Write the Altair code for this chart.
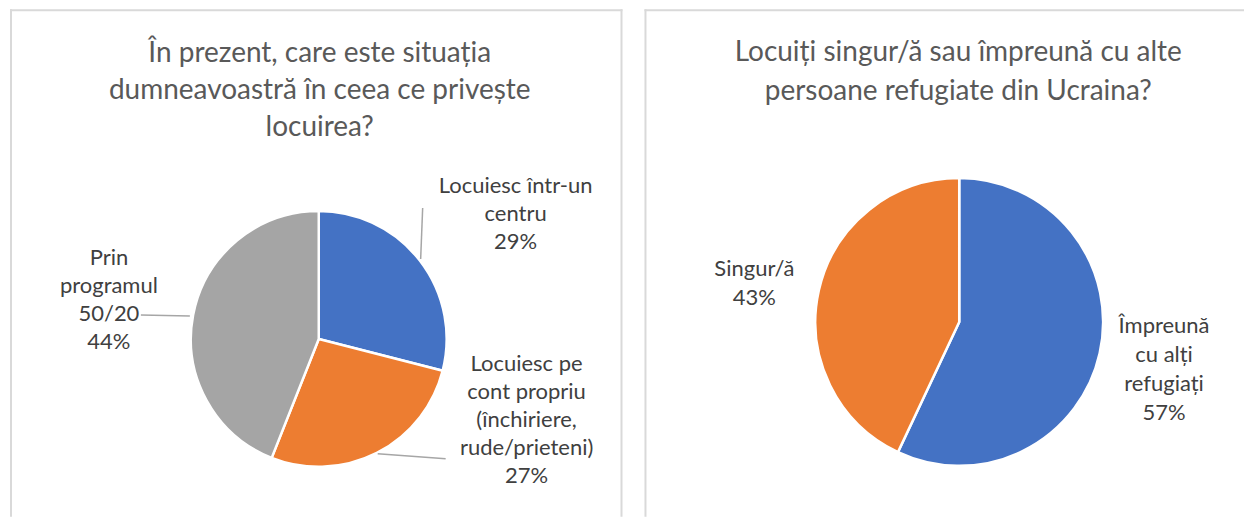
import altair as alt
import pandas as pd

# ---------------- data ----------------
left_title = ["În prezent, care este situația", "dumneavoastră în ceea ce privește", "locuirea?"]
left_categories = ["Locuiesc într-un centru",
                   "Locuiesc pe cont propriu (închiriere, rude/prieteni)",
                   "Prin programul 50/20"]
left_values = [29, 27, 44]
left_label_lines = [["Locuiesc într-un", "centru"],
                    ["Locuiesc pe", "cont propriu", "(închiriere,", "rude/prieteni)"],
                    ["Prin", "programul", "50/20"]]

right_title = ["Locuiți singur/ă sau împreună cu alte", "persoane refugiate din Ucraina?"]
right_categories = ["Împreună cu alți refugiați", "Singur/ă"]
right_values = [57, 43]
right_label_lines = [["Împreună", "cu alți", "refugiați"],
                     ["Singur/ă"]]

# ---------------- layout / style ----------------
FONT = "Lato"
BLUE, ORANGE, GRAY = "#4472C4", "#ED7D31", "#A5A5A5"
TITLE_COLOR = "#595959"
LABEL_COLOR = "#404040"
BORDER = "#D9D9D9"
LEADER = "#A6A6A6"
TITLE_SIZE = 28
LABEL_SIZE = 22
PANEL_H = 508


def panel(width, title_lines, title_x, title_y0, title_lh,
          cats, vals, colors, label_lines, label_anchors, label_lh,
          leaders, center, radius, borders):
    arc_df = pd.DataFrame({"cat": cats, "value": vals, "order": list(range(len(cats)))})
    arc = alt.Chart(arc_df).mark_arc(stroke="white", strokeWidth=2.5).encode(
        theta=alt.Theta("value:Q", stack=True),
        color=alt.Color("cat:N", scale=alt.Scale(domain=cats, range=colors), legend=None),
        order=alt.Order("order:Q"),
        x=alt.value(center[0]),
        y=alt.value(center[1]),
        radius=alt.value(radius),
    )

    trows = [{"text": t, "px": title_x, "py": title_y0 + i * title_lh}
             for i, t in enumerate(title_lines)]
    titles = alt.Chart(pd.DataFrame(trows)).mark_text(
        font=FONT, fontSize=TITLE_SIZE, color=TITLE_COLOR, align="center", baseline="middle"
    ).encode(
        x=alt.X("px:Q", scale=None, axis=None),
        y=alt.Y("py:Q", scale=None, axis=None),
        text="text:N",
    )

    lrows = []
    for lines, v, (ax, ay) in zip(label_lines, vals, label_anchors):
        for i, t in enumerate(lines + [f"{v}%"]):
            lrows.append({"text": t, "px": ax, "py": ay + i * label_lh})
    labels = alt.Chart(pd.DataFrame(lrows)).mark_text(
        font=FONT, fontSize=LABEL_SIZE, color=LABEL_COLOR, align="center", baseline="middle"
    ).encode(
        x=alt.X("px:Q", scale=None, axis=None),
        y=alt.Y("py:Q", scale=None, axis=None),
        text="text:N",
    )

    layers = [arc, titles, labels]
    if leaders:
        ldf = pd.DataFrame(leaders, columns=["x1", "y1", "x2", "y2"])
        layers.append(alt.Chart(ldf).mark_rule(color=LEADER, strokeWidth=1.5).encode(
            x=alt.X("x1:Q", scale=None, axis=None), y=alt.Y("y1:Q", scale=None, axis=None),
            x2="x2:Q", y2="y2:Q"))
    bdf = pd.DataFrame(borders, columns=["x1", "y1", "x2", "y2"])
    layers.append(alt.Chart(bdf).mark_rule(color=BORDER, strokeWidth=2).encode(
        x=alt.X("x1:Q", scale=None, axis=None), y=alt.Y("y1:Q", scale=None, axis=None),
        x2="x2:Q", y2="y2:Q"))

    return alt.layer(*layers).properties(width=width, height=PANEL_H)


LW, RW = 613, 600
left = panel(
    LW, left_title, 310, 45, 37,
    left_categories, left_values, [BLUE, ORANGE, GRAY],
    left_label_lines, [(506, 177), (517, 355), (99, 249)], 28,
    [(413, 199, 411, 250), (368, 445, 436, 450), (131, 306, 180, 307)],
    (309, 330), 128,
    [(0, 1, LW, 1), (1, 0, 1, PANEL_H), (LW - 1, 0, LW - 1, PANEL_H)],
)
right = panel(
    RW, right_title, 314, 44, 39,
    right_categories, right_values, [BLUE, ORANGE],
    right_label_lines, [(520, 317), (110, 260)], 29,
    [],
    (315, 313), 144,
    [(0, 1, RW, 1), (1, 0, 1, PANEL_H)],
)

chart = alt.hconcat(left, right, spacing=20).properties(
    padding={"left": 1, "top": 0, "right": 0, "bottom": 0}
).configure_view(stroke=None)

chart.save("out.html", embed_options={"renderer": "svg", "actions": False})
